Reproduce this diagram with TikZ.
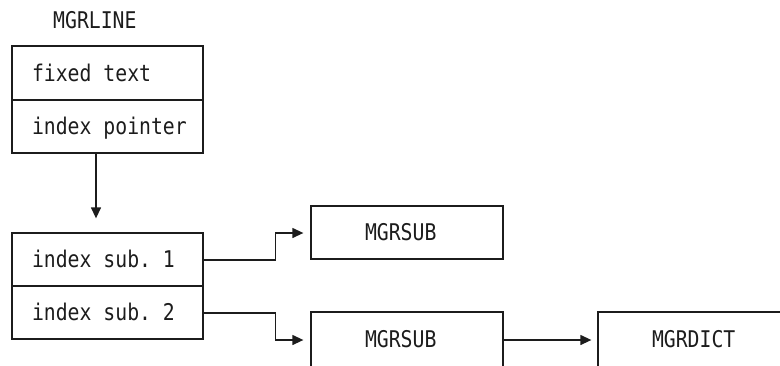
\documentclass[tikz,border=0pt]{standalone}
\usepackage{fontspec}
\newfontfamily\mono[FakeStretch=0.86]{DejaVu Sans Mono}
\usetikzlibrary{arrows.meta}
\definecolor{ink}{HTML}{1C1C1C}
\begin{document}
\begin{tikzpicture}[x=1pt,y=-1pt,
  every node/.style={font=\mono\fontsize{23}{26}\selectfont\frenchspacing, text=ink},
  cell/.style={draw=ink, line width=1.3pt, minimum height=53pt, inner ysep=0pt,
    text height=16.5pt, text depth=0pt},
  rowcell/.style={cell, minimum width=191pt, inner xsep=20pt},
  boxcell/.style={cell, minimum width=192pt, inner xsep=54pt},
  arr/.style={draw=ink, line width=1.3pt, -{Triangle[length=11pt,width=10pt]}},
]
\useasboundingbox (0,0) rectangle (780,365);
\node[anchor=west, inner sep=0pt] (title) at (53,20) {MGRLINE};
\node[rowcell, minimum height=54pt] (r1) at (107.5,73) {\makebox[151pt][l]{fixed text}};
\node[rowcell] (r2) at (107.5,126.5) {\makebox[151pt][l]{index pointer}};
\node[rowcell] (s1) at (107.5,259.5) {\makebox[151pt][l]{index sub. 1}};
\node[rowcell] (s2) at (107.5,312.5) {\makebox[151pt][l]{index sub. 2}};
\node[boxcell] (m1) at (407,232.5) {\makebox[84pt][l]{MGRSUB}};
\node[boxcell, minimum height=55pt] (m2) at (407,339.5) {\makebox[84pt][l]{MGRSUB}};
\node[boxcell, minimum height=55pt] (d) at (694,339.5) {\makebox[84pt][l]{MGRDICT}};
\draw[arr, shorten >=14pt] ([xshift=-11.5pt]r2.south) -- ([xshift=-11.5pt]s1.north);
\draw[arr, shorten >=7pt] ([yshift=-0.5pt]s1.east) -- ++(72,0) |- ([yshift=-0.5pt]m1.west);
\draw[arr, shorten >=7pt] ([yshift=-0.5pt]s2.east) -- ++(72,0) |- ([yshift=-0.5pt]m2.west);
\draw[arr, shorten >=6pt] ([yshift=-0.5pt]m2.east) -- ([yshift=-0.5pt]d.west);
\end{tikzpicture}
\end{document}
